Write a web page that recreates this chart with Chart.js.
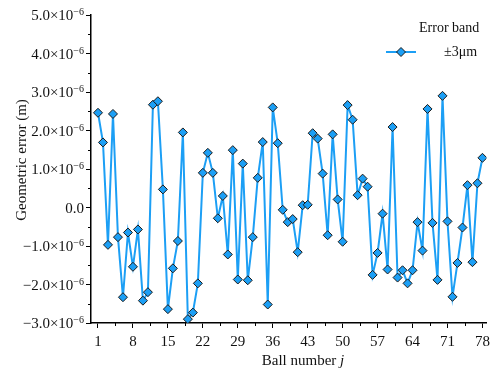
<!DOCTYPE html>
<html lang="en">
<head>
<meta charset="UTF-8">
<title>Geometric error</title>
<script src="https://cdn.jsdelivr.net/npm/chart.js"></script>
<style>
    html, body { margin: 0; padding: 0; background: #fff; }
    #box { width: 495px; height: 376px; position: relative; }
</style>
</head>
<body>
<div id="box"><canvas id="grafico" width="495" height="376"></canvas></div>
<script>
    // ball numbers 1..78 and the geometric error of each (units of 1e-6 m)
    const balls = [
        1, 2, 3, 4, 5, 6, 7, 8, 9, 10, 11, 12, 13, 14, 15, 16, 17, 18, 19, 20,
        21, 22, 23, 24, 25, 26, 27, 28, 29, 30, 31, 32, 33, 34, 35, 36, 37, 38, 39, 40,
        41, 42, 43, 44, 45, 46, 47, 48, 49, 50, 51, 52, 53, 54, 55, 56, 57, 58, 59, 60,
        61, 62, 63, 64, 65, 66, 67, 68, 69, 70, 71, 72, 73, 74, 75, 76, 77, 78
    ];
    const erro = [
        2.46, 1.69, -0.97, 2.43, -0.77, -2.33, -0.65, -1.54, -0.57, -2.42,
        -2.20, 2.67, 2.76, 0.47, -2.64, -1.58, -0.87, 1.95, -2.90, -2.73,
        -1.97, 0.90, 1.42, 0.90, -0.28, 0.30, -1.22, 1.49, -1.87, 1.14,
        -1.89, -0.77, 0.77, 1.70, -2.52, 2.60, 1.67, -0.06, -0.38, -0.30,
        -1.16, 0.06, 0.07, 1.93, 1.79, 0.88, -0.72, 1.90, 0.21, -0.89,
        2.66, 2.28, 0.32, 0.75, 0.54, -1.75, -1.18, -0.16, -1.61, 2.09,
        -1.82, -1.63, -1.97, -1.63, -0.38, -1.12, 2.56, -0.40, -1.88, 2.90,
        -0.36, -2.32, -1.44, -0.52, 0.58, -1.42, 0.63, 1.29
    ];
    const xTicks = [1, 8, 15, 22, 29, 36, 43, 50, 57, 64, 71, 78];
    const yTicks = [-3, -2, -1, 0, 1, 2, 3, 4, 5];
    // mantissa part and exponent part of each y tick label
    const yMant = ['\u22123.0\u00d710', '\u22122.0\u00d710', '\u22121.0\u00d710', '0.0',
        '1.0\u00d710', '2.0\u00d710', '3.0\u00d710', '4.0\u00d710', '5.0\u00d710'];
    const yExp = ['\u22126', '\u22126', '\u22126', '', '\u22126', '\u22126', '\u22126', '\u22126', '\u22126'];

    const azul = '#1c9ff5';
    const fonte = '"Liberation Serif", "Times New Roman", serif';
    const tinta = '#111';

    // minor ticks, y labels, titles and legend drawn over the chart
    const extras = {
        id: 'extras',
        afterDraw(chart) {
            const ctx = chart.ctx;
            const x = chart.scales.x, y = chart.scales.y;
            const area = chart.chartArea;
            ctx.save();
            ctx.strokeStyle = '#000';
            ctx.lineWidth = 1;
            ctx.beginPath();
            for (let i = 0; i < xTicks.length - 1; i++) {
                const px = Math.round(x.getPixelForValue((xTicks[i] + xTicks[i + 1]) / 2)) + 0.5;
                ctx.moveTo(px, area.bottom);
                ctx.lineTo(px, area.bottom + 3);
            }
            for (let i = 0; i < yTicks.length - 1; i++) {
                const py = Math.round(y.getPixelForValue(yTicks[i] + 0.5)) + 0.5;
                ctx.moveTo(area.left, py);
                ctx.lineTo(area.left - 3, py);
            }
            ctx.stroke();

            // y tick labels with raised exponent
            ctx.fillStyle = tinta;
            ctx.textBaseline = 'middle';
            ctx.textAlign = 'right';
            const direita = area.left - 7;
            for (let i = 0; i < yTicks.length; i++) {
                const py = y.getPixelForValue(yTicks[i]);
                let fim = direita;
                if (yExp[i]) {
                    ctx.font = '10px ' + fonte;
                    ctx.fillText(yExp[i], fim, py - 2.5);
                    fim -= ctx.measureText(yExp[i]).width;
                }
                ctx.font = '15px ' + fonte;
                ctx.fillText(yMant[i], fim, py + 1.5);
            }

            // x title with italic j
            ctx.textAlign = 'left';
            ctx.font = '15px ' + fonte;
            const t1 = 'Ball number ';
            const w1 = ctx.measureText(t1).width;
            ctx.font = 'italic 15px ' + fonte;
            const w2 = ctx.measureText('j').width;
            let sx = 303 - (w1 + w2) / 2;
            ctx.font = '15px ' + fonte;
            ctx.fillText(t1, sx, 361);
            ctx.font = 'italic 15px ' + fonte;
            ctx.fillText('j', sx + w1, 361);

            // y title
            ctx.font = '15px ' + fonte;
            ctx.textAlign = 'center';
            ctx.translate(22, 160);
            ctx.rotate(-Math.PI / 2);
            ctx.fillText('Geometric error (m)', 0, 0);
            ctx.restore();

            // legend
            ctx.save();
            ctx.fillStyle = tinta;
            ctx.font = '14px ' + fonte;
            ctx.textBaseline = 'middle';
            ctx.textAlign = 'left';
            ctx.fillText('Error band', 419, 28);
            ctx.fillText('\u00b13\u03bcm', 444, 52);
            ctx.strokeStyle = azul;
            ctx.lineWidth = 2;
            ctx.beginPath();
            ctx.moveTo(386, 52);
            ctx.lineTo(416, 52);
            ctx.stroke();
            ctx.fillStyle = azul;
            ctx.strokeStyle = '#1a1a1a';
            ctx.lineWidth = 1;
            ctx.beginPath();
            ctx.moveTo(401, 47.5);
            ctx.lineTo(405.5, 52);
            ctx.lineTo(401, 56.5);
            ctx.lineTo(396.5, 52);
            ctx.closePath();
            ctx.fill();
            ctx.stroke();
            ctx.restore();
        }
    };

    new Chart(document.getElementById('grafico'), {
        type: 'line',
        data: {
            datasets: [{
                label: '\u00b13\u03bcm',
                data: balls.map((b, i) => ({ x: b, y: erro[i] })),
                borderColor: azul,
                borderWidth: 2,
                backgroundColor: azul,
                pointStyle: 'rectRot',
                pointRadius: 4.5,
                pointHoverRadius: 4.5,
                pointBorderColor: '#1a1a1a',
                pointBorderWidth: 1,
                tension: 0
            }]
        },
        options: {
            responsive: false,
            animation: false,
            layout: { padding: { top: 15, right: 5, left: 0, bottom: 0 } },
            plugins: {
                legend: { display: false },
                tooltip: { enabled: false }
            },
            scales: {
                x: {
                    type: 'linear',
                    min: -0.4,
                    max: 78.8,
                    afterBuildTicks: s => { s.ticks = xTicks.map(v => ({ value: v })); },
                    afterFit: s => { s.height = 53; },
                    grid: { drawOnChartArea: false, tickLength: 5, color: '#000', tickWidth: 1 },
                    border: { color: '#000', width: 1.5 },
                    ticks: {
                        color: tinta,
                        padding: 5,
                        maxRotation: 0,
                        font: { family: fonte, size: 15 }
                    }
                },
                y: {
                    min: -3,
                    max: 5,
                    afterBuildTicks: s => { s.ticks = yTicks.map(v => ({ value: v })); },
                    afterFit: s => { s.width = 91; },
                    grid: { drawOnChartArea: false, tickLength: 5, color: '#000', tickWidth: 1 },
                    border: { color: '#000', width: 1.5 },
                    ticks: { display: false }
                }
            }
        },
        plugins: [extras]
    });
</script>
</body>
</html>
